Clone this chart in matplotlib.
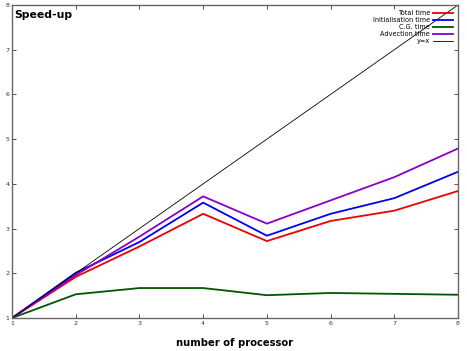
import matplotlib
matplotlib.use('Agg')
import matplotlib.pyplot as plt

# data
procs = [1, 2, 3, 4, 5, 6, 7, 8]
total_time = [1.0, 1.92, 2.60, 3.33, 2.72, 3.17, 3.40, 3.84]
init_time = [1.0, 2.01, 2.70, 3.58, 2.84, 3.33, 3.68, 4.27]
cg_time = [1.0, 1.53, 1.67, 1.67, 1.51, 1.56, 1.54, 1.52]
advection_time = [1.0, 1.96, 2.82, 3.72, 3.11, 3.63, 4.15, 4.79]

fig = plt.figure(figsize=(4.67, 3.51), dpi=100)
ax = fig.add_axes([0.0257, 0.094, 0.955, 0.8918])

ax.plot(procs, total_time, color='#ee0000', lw=1.3, label='Total time')
ax.plot(procs, init_time, color='#0000ee', lw=1.3, label='Initialisation time')
ax.plot(procs, cg_time, color='#005500', lw=1.3, label='C.G. time')
ax.plot(procs, advection_time, color='#8800cc', lw=1.3, label='Advection time')
ax.plot(procs, procs, color='black', lw=0.6, label='y=x')

ax.set_xlim(1, 8)
ax.set_ylim(1, 8)
ax.set_xticks(procs)
ax.set_yticks(range(1, 9))
ax.tick_params(direction='in', top=True, right=True, labelsize=4.5,
               length=3, width=0.6, pad=2, colors='#333333')
for s in ax.spines.values():
    s.set_color('#666666')
    s.set_linewidth(1.0)

ax.text(0.005, 0.985, 'Speed-up', transform=ax.transAxes, fontsize=7.8,
        fontweight='bold', va='top', ha='left')
ax.set_xlabel('number of processor', fontsize=7.2, fontweight='bold', labelpad=9)

leg = ax.legend(loc='upper right', fontsize=4.7, frameon=False, markerfirst=False,
                handlelength=3.0, handletextpad=0.5, labelspacing=0.15,
                borderaxespad=0.4)
for t in leg.get_texts():
    t.set_ha('right')
leg._legend_box.align = 'right'

fig.savefig('out.png', dpi=100)
